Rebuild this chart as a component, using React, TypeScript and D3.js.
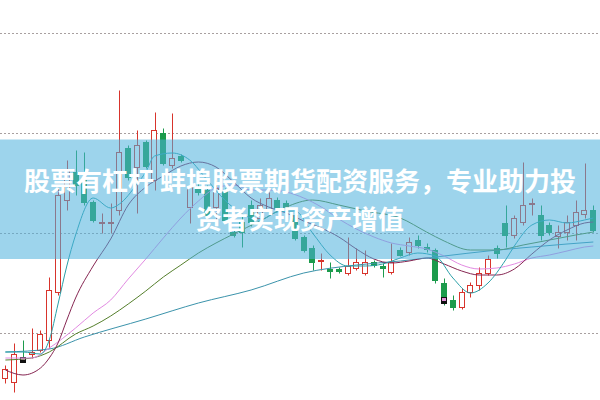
import React from 'react';
import * as d3 from 'd3';

const W = 600;
const H = 400;

const opens = [9.55,9.51,9.76,9.79,9.83,9.93,10.41,11.33,11.61,11.53,11.31,11.10,11.10,11.23,11.85,11.66,11.91,11.53,12.00,11.68,11.77,11.26,11.46,11.43,11.26,11.43,11.01,11.11,11.28,11.15,11.23,11.33,11.30,11.18,10.96,10.85,10.72,10.64,10.64,10.60,10.65,10.60,10.71,10.67,10.61,10.83,10.81,10.93,10.86,10.83,10.50,10.33,10.26,10.41,10.48,10.60,10.85,11.10,10.98,11.11,11.29,11.18,11.08,10.97,11.01,11.08,11.19,11.23];
const closes = [9.64,9.79,9.73,9.81,9.99,10.43,11.38,11.63,11.48,11.31,11.13,11.11,11.11,11.81,11.56,11.88,11.67,12.03,11.70,11.75,11.73,11.46,11.41,11.18,11.45,11.13,10.98,11.01,11.11,11.28,11.35,11.25,11.26,10.95,10.83,10.71,10.73,10.62,10.62,10.67,10.71,10.71,10.68,10.65,10.71,10.78,10.91,10.88,10.84,10.53,10.30,10.26,10.41,10.48,10.60,10.74,10.80,10.98,11.15,11.28,11.30,10.98,11.01,11.01,11.11,11.21,11.23,11.03];
const highs = [9.68,9.90,9.93,10.05,10.03,10.56,11.45,11.73,11.83,11.81,11.33,11.20,11.30,12.43,11.88,12.03,11.93,12.21,12.05,12.20,11.79,11.63,11.50,11.48,11.53,11.45,11.03,11.18,11.33,11.35,11.41,11.36,11.33,11.21,10.98,10.88,10.80,10.71,10.66,10.96,10.85,10.83,10.73,10.70,10.90,10.86,10.96,10.98,10.90,10.85,10.55,10.38,10.45,10.51,10.66,10.78,10.88,11.28,11.18,11.71,11.35,11.28,11.11,11.08,11.18,11.33,11.70,11.28];
const lows = [9.50,9.41,9.71,9.75,9.81,9.85,10.38,11.23,11.38,11.28,11.11,11.00,11.00,11.18,11.53,11.20,11.65,11.43,11.68,11.65,11.71,11.10,11.38,11.16,11.10,11.11,10.96,10.86,11.07,11.11,11.21,11.23,11.24,10.93,10.81,10.63,10.63,10.55,10.60,10.58,10.63,10.58,10.66,10.56,10.59,10.77,10.78,10.85,10.81,10.50,10.28,10.23,10.24,10.36,10.43,10.58,10.75,10.86,10.95,11.08,11.18,10.93,10.98,10.85,10.93,10.93,11.15,11.01];

// special pink/black marked bodies: [index, top price, bottom price]
const marks: [number, number, number][] = [[2, 9.76, 9.71], [50, 10.36, 10.30]];

const ma5: [number, number][] = [[0,9.81],[2,9.81],[4,9.79],[5,9.93],[6,10.29],[7,10.67],[8,10.98],[10,11.35],[12,11.25],[13,11.29],[15,11.49],[16,11.61],[17,11.77],[19,11.80],[21,11.73],[23,11.53],[25,11.33],[27,11.19],[29,11.13],[31,11.21],[33,11.22],[35,11.00],[37,10.78],[39,10.67],[41,10.67],[43,10.69],[45,10.75],[47,10.80],[49,10.77],[51,10.55],[53,10.40],[55,10.50],[57,10.73],[58,10.87],[60,11.08],[62,11.13],[64,11.10],[66,11.13],[67,11.15]];
const ma10: [number, number][] = [[0,9.63],[2,9.58],[4,9.65],[5,9.75],[6,9.90],[7,10.13],[8,10.35],[10,10.67],[12,10.94],[14,11.28],[16,11.46],[18,11.57],[20,11.67],[22,11.71],[24,11.66],[26,11.51],[28,11.35],[30,11.26],[32,11.20],[34,11.12],[36,11.05],[38,10.96],[40,10.84],[42,10.74],[44,10.70],[46,10.72],[48,10.75],[50,10.69],[52,10.62],[54,10.58],[56,10.58],[58,10.64],[60,10.79],[62,10.93],[64,11.03],[66,11.10],[67,11.11]];
const ma20: [number, number][] = [[0,9.75],[3,9.75],[5,9.85],[8,10.05],[10,10.20],[12,10.33],[14,10.54],[16,10.74],[18,10.95],[20,11.15],[22,11.32],[24,11.45],[26,11.48],[28,11.43],[30,11.43],[32,11.41],[34,11.35],[36,11.26],[38,11.14],[40,11.04],[42,10.96],[44,10.90],[46,10.87],[48,10.84],[50,10.77],[52,10.68],[54,10.64],[56,10.65],[58,10.69],[60,10.75],[62,10.78],[64,10.82],[66,10.86],[67,10.87]];
const ma30: [number, number][] = [[0,9.73],[3,9.75],[5,9.81],[8,9.99],[10,10.07],[12,10.17],[14,10.29],[16,10.42],[18,10.56],[20,10.68],[22,10.80],[24,10.90],[26,10.99],[29,11.12],[32,11.26],[35,11.33],[38,11.28],[41,11.22],[45,11.15],[48,11.01],[50,10.92],[53,10.83],[56,10.83],[59,10.88],[62,10.93],[65,10.98],[67,11.01]];
const ma60: [number, number][] = [[0,9.81],[5,9.84],[9,9.96],[16,10.14],[22,10.30],[28,10.43],[34,10.60],[40,10.68],[45,10.72],[50,10.77],[55,10.82],[60,10.86],[64,10.89],[67,10.91]];

const gridTicks = [10, 11, 12, 13];
const bannerLines = ['股票有杠杆 蚌埠股票期货配资服务，专业助力投', '资者实现资产增值'];

const RED = '#d8342c';
const GREEN = '#1c9b4c';

export default function App() {
  const idx = d3.range(opens.length);
  const x = d3.scaleBand<number>().domain(idx).range([1, 597.7]).paddingInner(0.3).paddingOuter(0.15);
  const y = d3.scaleLinear().domain([9.33, 13.33]).range([H, 0]);
  const bw = x.bandwidth();
  const cx = (i: number) => (x(i) as number) + bw / 2;
  const line = d3.line<[number, number]>().x(d => cx(d[0])).y(d => y(d[1])).curve(d3.curveMonotoneX);
  const lines: [[number, number][], string][] = [
    [ma60, '#3b93ab'],
    [ma30, '#557f2c'],
    [ma20, '#e28ae2'],
    [ma10, '#862652'],
    [ma5, '#2aa0a8'],
  ];
  return (
    <svg width={W} height={H} style={{ position: 'fixed', left: 0, top: 0, background: '#fff' }}>
      <rect x={0} y={0} width={W} height={H} fill="#fff" />
      {gridTicks.map(t => (
        <line key={t} x1={0} x2={W} y1={Math.round(y(t)) + 0.5} y2={Math.round(y(t)) + 0.5}
          stroke="#a8a0a0" strokeWidth={1} strokeDasharray="2,2" />
      ))}
      {idx.map(i => {
        const o = opens[i], c = closes[i];
        const up = c >= o;
        const col = up ? RED : GREEN;
        const xc = Math.round(cx(i)) + 0.5;
        const x0 = Math.round(x(i) as number) + 0.5;
        const w = Math.round(bw) - 1;
        const top = Math.round(y(Math.max(o, c))) + 0.5;
        const bot = Math.max(top + 1, Math.round(y(Math.min(o, c))) + 0.5);
        const yh = Math.round(y(highs[i])) + 0.5;
        const yl = Math.round(y(lows[i])) + 0.5;
        return (
          <g key={i}>
            <line x1={xc} x2={xc} y1={yh} y2={top} stroke={col} />
            <line x1={xc} x2={xc} y1={bot} y2={yl} stroke={col} />
            <rect x={x0} y={top} width={w} height={bot - top} fill={up ? '#fff' : col} stroke={col} />
          </g>
        );
      })}
      {marks.map(([i, t, b]) => {
        const x0 = Math.round(x(i) as number) + 0.5;
        const w = Math.round(bw) - 1;
        const yt = Math.round(y(t)) + 0.5;
        const yb = Math.round(y(b)) + 0.5;
        const ym = Math.round((yt + yb) / 2);
        return (
          <g key={'m' + i}>
            <rect x={x0} y={yt} width={w} height={yb - yt} fill="#e090d8" stroke="#111" />
            <rect x={x0} y={ym} width={w} height={yb - ym} fill="#111" />
          </g>
        );
      })}
      {lines.map(([pts, col], k) => (
        <path key={k} d={line(pts) as string} fill="none" stroke={col} strokeWidth={1} />
      ))}
      <rect x={0} y={139.5} width={W} height={119.5} fill="rgb(77,177,220)" fillOpacity={0.55} />
      {bannerLines.map((s, k) => (
        <text key={k} x={300} y={191 + k * 38} textAnchor="middle" fill="#fff"
          fontFamily="'Noto Sans CJK SC', sans-serif" fontWeight={700} fontSize={26}>{s}</text>
      ))}
    </svg>
  );
}
